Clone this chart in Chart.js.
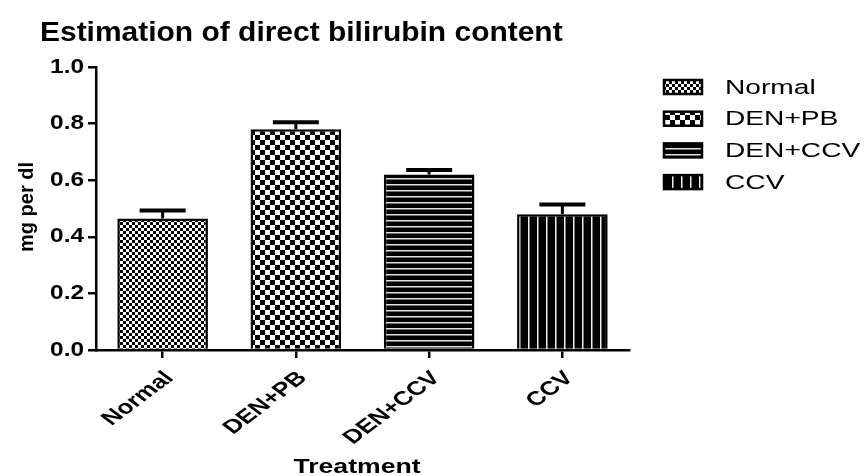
<!DOCTYPE html>
<html>
<head>
<meta charset="utf-8">
<script src="https://cdn.jsdelivr.net/npm/chart.js@4.4.0/dist/chart.umd.min.js"></script>
<style>
html, body { margin: 0; padding: 0; background: #fff; }
</style>
</head>
<body>
<canvas id="barChart" width="864" height="476"></canvas>
<script>
// data
const categories = ['Normal', 'DEN+PB', 'DEN+CCV', 'CCV'];
const means = [0.465, 0.78, 0.62, 0.48];
const errors = [0.028, 0.025, 0.016, 0.034];
const yTicks = [0.0, 0.2, 0.4, 0.6, 0.8, 1.0];

const FONT = '"Liberation Sans", Arial, sans-serif';
const SX = 1.33; // the source picture is stretched sideways
const ctx = document.getElementById('barChart').getContext('2d');

// hatch patterns like the GraphPad fills
function makePattern(w, h, draw) {
  const c = document.createElement('canvas');
  c.width = w; c.height = h;
  const g = c.getContext('2d');
  draw(g, w, h);
  return ctx.createPattern(c, 'repeat');
}
const fineChecker = makePattern(6, 6, (g) => {
  g.fillStyle = '#fff'; g.fillRect(0, 0, 6, 6);
  g.fillStyle = '#000'; g.fillRect(0, 0, 3, 3); g.fillRect(3, 3, 3, 3);
});
const coarseChecker = makePattern(10, 10, (g) => {
  g.fillStyle = '#fff'; g.fillRect(0, 0, 10, 10);
  g.fillStyle = '#000'; g.fillRect(0, 0, 5, 5); g.fillRect(5, 5, 5, 5);
});
const hLines = makePattern(6, 6, (g) => {
  g.fillStyle = '#000'; g.fillRect(0, 0, 6, 6);
  g.fillStyle = '#e0e0e0'; g.fillRect(0, 4, 6, 1.5);
});
const vLines = makePattern(9, 9, (g) => {
  g.fillStyle = '#000'; g.fillRect(0, 0, 9, 9);
  g.fillStyle = '#f0f0f0'; g.fillRect(6, 0, 1.5, 9);
});
const fills = [fineChecker, coarseChecker, hLines, vLines];

// text drawn with a sideways stretch, optionally rotated
function wideText(c, str, x, y, font, sx, angle, align, baseline) {
  c.save();
  c.translate(x, y);
  c.scale(sx, 1);
  if (angle) c.rotate(angle);
  c.font = font;
  c.textAlign = align;
  c.textBaseline = baseline;
  c.fillText(str, 0, 0);
  c.restore();
}

const decor = {
  id: 'decor',
  afterDatasetsDraw(chart) {
    const c = chart.ctx;
    const y = chart.scales.y;
    const meta = chart.getDatasetMeta(0);
    c.save();
    c.strokeStyle = '#000';
    meta.data.forEach((bar, i) => {
      const top = y.getPixelForValue(means[i]);
      const cap = y.getPixelForValue(means[i] + errors[i]);
      c.lineWidth = 3;
      c.beginPath(); c.moveTo(bar.x, top); c.lineTo(bar.x, cap); c.stroke();
      c.lineWidth = 4;
      c.beginPath(); c.moveTo(bar.x - 23, cap); c.lineTo(bar.x + 23, cap); c.stroke();
    });
    c.restore();
  },
  afterDraw(chart) {
    const c = chart.ctx;
    const xs = chart.scales.x;
    const ys = chart.scales.y;
    c.save();
    c.fillStyle = '#000';
    // title
    wideText(c, 'Estimation of direct bilirubin content', 40, 41, 'bold 28px ' + FONT, 1.07, 0, 'left', 'alphabetic');
    // tick labels
    yTicks.forEach((v) => {
      wideText(c, v.toFixed(1), 84, ys.getPixelForValue(v), 'bold 20px ' + FONT, 1.22, 0, 'right', 'middle');
    });
    categories.forEach((name, i) => {
      wideText(c, name, xs.getPixelForValue(i) + 7, 375, 'bold 19.5px ' + FONT, SX, -Math.PI / 4, 'right', 'middle');
    });
    // axis titles
    wideText(c, 'Treatment', 357, 467, 'bold 20px ' + FONT, SX, 0, 'center', 'middle');
    wideText(c, 'mg per dl', 27, 207, 'bold 20px ' + FONT, 1.05, -Math.PI / 2, 'center', 'middle');
    // legend
    categories.forEach((name, i) => {
      const cy = 87 + i * 31.7;
      c.fillStyle = fills[i];
      c.fillRect(664, cy - 7, 38, 14);
      c.strokeStyle = '#000';
      c.lineWidth = 2.5;
      c.strokeRect(664, cy - 7, 38, 14);
      c.fillStyle = '#000';
      wideText(c, name, 725, cy + 1, '21px ' + FONT, 1.34, 0, 'left', 'middle');
    });
    c.restore();
  }
};

new Chart(ctx, {
  type: 'bar',
  data: {
    labels: categories,
    datasets: [{
      data: means,
      backgroundColor: fills,
      borderColor: '#000',
      borderWidth: 2.5,
      barPercentage: 0.68,
      categoryPercentage: 1.0
    }]
  },
  options: {
    responsive: false,
    animation: false,
    layout: { padding: { left: 0, top: 67, right: 235, bottom: 0 } },
    plugins: {
      legend: { display: false },
      tooltip: { enabled: false }
    },
    scales: {
      y: {
        min: 0,
        max: 1,
        afterFit(scale) { scale.width = 96; },
        afterBuildTicks(scale) { scale.ticks = yTicks.map(v => ({ value: v })); },
        ticks: { display: false },
        grid: { drawOnChartArea: false, drawTicks: true, tickLength: 8, color: '#000', lineWidth: 2.5 },
        border: { display: true, color: '#000', width: 2.5 }
      },
      x: {
        afterFit(scale) { scale.height = 126; },
        ticks: { display: false },
        grid: { offset: false, drawOnChartArea: false, drawTicks: true, tickLength: 8, color: '#000', lineWidth: 2.5 },
        border: { display: true, color: '#000', width: 2.5 }
      }
    }
  },
  plugins: [decor]
});
</script>
</body>
</html>
